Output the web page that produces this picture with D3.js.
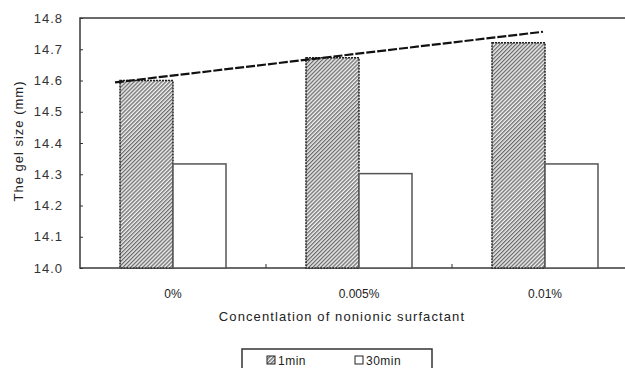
<!DOCTYPE html>
<html>
<head>
<meta charset="utf-8">
<script src="https://cdn.jsdelivr.net/npm/d3@7"></script>
<style>
  html, body { margin: 0; padding: 0; background: #fff; }
  svg { display: block; font-family: "Liberation Sans", Arial, sans-serif; }
</style>
</head>
<body>
<svg id="chart" width="625" height="368"></svg>
<script>
// Gel size after 1 min and 30 min for three surfactant concentrations
const categories = ["0%", "0.005%", "0.01%"];
const seriesNames = ["1min", "30min"];
const values1min = [14.60, 14.673, 14.721];
const values30min = [14.333, 14.302, 14.333];
const yTicks = [14.0, 14.1, 14.2, 14.3, 14.4, 14.5, 14.6, 14.7, 14.8];
const trendValues = [14.594, 14.756];   // linear trend, start and end

const svg = d3.select("#chart");
const plotL = 80, plotR = 638, plotT = 18, plotB = 268;

// hatched fill for the 1 min bars
const defs = svg.append("defs");
const pat = defs.append("pattern")
  .attr("id", "hatch").attr("patternUnits", "userSpaceOnUse")
  .attr("width", 2.8).attr("height", 2.8)
  .attr("patternTransform", "rotate(45)");
pat.append("rect").attr("width", 2.8).attr("height", 2.8).attr("fill", "#f2f2f2");
pat.append("rect").attr("width", 1.3).attr("height", 2.8).attr("fill", "#6a6a6a");

const x0 = d3.scaleBand().domain(categories).range([plotL, plotR])
  .paddingInner(80 / 186).paddingOuter(40 / 186);
const x1 = d3.scaleBand().domain(seriesNames).range([0, x0.bandwidth()]);
const y = d3.scaleLinear().domain([14.0, 14.8]).range([plotB, plotT]);

// plot frame
svg.append("rect").attr("x", plotL).attr("y", plotT)
  .attr("width", plotR - plotL).attr("height", plotB - plotT)
  .attr("fill", "none").attr("stroke", "#3a3a3a").attr("stroke-width", 1.5);

// y axis (ticks point inward)
const yAxis = d3.axisLeft(y).tickValues(yTicks).tickSize(-3)
  .tickFormat(d3.format(".1f"));
const gy = svg.append("g").attr("transform", `translate(${plotL},0)`).call(yAxis);
gy.select(".domain").remove();
gy.selectAll(".tick line").attr("stroke", "#333");
gy.selectAll(".tick text").attr("x", -17).attr("font-size", 13)
  .attr("letter-spacing", 1).attr("fill", "#333")
  .attr("font-family", "Liberation Sans, Arial, sans-serif");

// category separators on the x axis
const seps = categories.slice(1).map(c => x0(c) - (x0.step() - x0.bandwidth()) / 2);
svg.selectAll(".sep").data(seps).enter().append("line")
  .attr("x1", d => d).attr("x2", d => d)
  .attr("y1", plotB).attr("y2", plotB - 4)
  .attr("stroke", "#333").attr("stroke-width", 1);

// bars
const rows = categories.map((c, i) => ({ cat: c, "1min": values1min[i], "30min": values30min[i] }));
const groups = svg.selectAll(".grp").data(rows).enter().append("g")
  .attr("transform", d => `translate(${x0(d.cat)},0)`);
groups.selectAll("rect").data(d => seriesNames.map(s => ({ s, v: d[s] }))).enter()
  .append("rect")
  .attr("x", d => x1(d.s))
  .attr("y", d => y(d.v))
  .attr("width", x1.bandwidth())
  .attr("height", d => y(14.0) - y(d.v))
  .attr("fill", d => d.s === "1min" ? "url(#hatch)" : "#fff")
  .attr("stroke", d => d.s === "1min" ? "#222" : "#555")
  .attr("stroke-width", 1.5)
  .attr("stroke-dasharray", d => d.s === "1min" ? "2,1" : null);

// trend line from the first bar's left edge to the last group's centre
const tx0 = x0(categories[0]) + x1("1min") - 5;
const tx1 = x0(categories[2]) + x0.bandwidth() / 2 - 2;
svg.append("line")
  .attr("x1", tx0).attr("y1", y(trendValues[0]))
  .attr("x2", tx1).attr("y2", y(trendValues[1]))
  .attr("stroke", "#111").attr("stroke-width", 2.2)
  .attr("stroke-dasharray", "9,2");

// category labels
svg.selectAll(".cat").data(categories).enter().append("text")
  .attr("x", d => x0(d) + x0.bandwidth() / 2)
  .attr("y", 298).attr("text-anchor", "middle")
  .attr("font-size", 12).attr("fill", "#222")
  .text(d => d);

// axis titles
svg.append("text").attr("x", 342).attr("y", 321).attr("text-anchor", "middle")
  .attr("font-size", 13).attr("letter-spacing", 1.1).attr("fill", "#222")
  .text("Concentlation of nonionic surfactant");
svg.append("text").attr("transform", "translate(23,141) rotate(-90)")
  .attr("text-anchor", "middle").attr("font-size", 13).attr("letter-spacing", 1)
  .attr("fill", "#222").text("The gel size (mm)");

// legend
const lg = svg.append("g");
lg.append("rect").attr("x", 242).attr("y", 349).attr("width", 190).attr("height", 30)
  .attr("fill", "#fff").attr("stroke", "#333").attr("stroke-width", 1.5);
const legendX = [267, 355];
seriesNames.forEach((s, i) => {
  lg.append("rect").attr("x", legendX[i]).attr("y", 356).attr("width", 8).attr("height", 8)
    .attr("fill", s === "1min" ? "url(#hatch)" : "#fff")
    .attr("stroke", "#222").attr("stroke-width", 1);
  lg.append("text").attr("x", legendX[i] + 11).attr("y", 365)
    .attr("font-size", 12).attr("fill", "#222").attr("letter-spacing", 0.5).text(s);
});
</script>
</body>
</html>
